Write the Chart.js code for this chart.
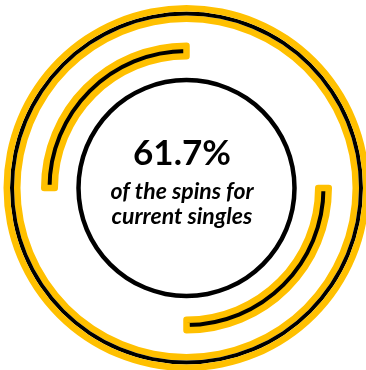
<!DOCTYPE html>
<html lang="en">
<head>
<meta charset="UTF-8">
<title>Current singles spins</title>
<script src="https://cdn.jsdelivr.net/npm/chart.js@4.4.1/dist/chart.umd.min.js"></script>
<style>
  html, body { margin: 0; padding: 0; background: #ffffff; }
  #wrap { width: 366px; height: 370px; }
</style>
</head>
<body>
<div id="wrap"><canvas id="spinsChart" width="366" height="370"></canvas></div>
<script>
// Datos del gráfico
const sharePercent = 61.7;
const captionLines = ['of the spins for', 'current singles'];
const fullRing = [100];
const quarterArcs = [25, 25, 25, 25];
const quarterVisible = [false, true, false, true];

const YELLOW = '#FFC000';
const BLACK = '#000000';

// Anillo completo sin borde (las capas amarillo/negro/amarillo se apilan)
function ringLayer(color, weight) {
    return { data: fullRing, backgroundColor: color, borderWidth: 0, weight: weight };
}

// Separador transparente entre anillos
function spacer(weight) {
    return { data: fullRing, backgroundColor: 'transparent', borderWidth: 0, weight: weight };
}

// Texto central: porcentaje y descripción
const centerText = {
    id: 'centerText',
    afterDatasetsDraw(chart) {
        const arc = chart.getDatasetMeta(0).data[0];
        if (!arc) return;
        const ctx = chart.ctx;
        const x = arc.x - 4.5;
        const y = arc.y;
        ctx.save();
        ctx.fillStyle = BLACK;
        ctx.textAlign = 'center';
        ctx.textBaseline = 'alphabetic';
        ctx.font = 'bold 35px Lato';
        ctx.fillText(sharePercent.toFixed(1) + '%', x, y - 23);
        ctx.font = 'italic bold 23px Lato';
        captionLines.forEach((line, i) => ctx.fillText(line, x, y + 11 + i * 25));
        ctx.restore();
    }
};

function initializeChart(chartElementId) {
    const chartElement = document.getElementById(chartElementId);
    if (!chartElement) {
        console.error(`Canvas "${chartElementId}" no encontrado.`);
        return;
    }

    new Chart(chartElement.getContext('2d'), {
        type: 'doughnut',
        data: {
            datasets: [
                ringLayer(YELLOW, 6.5),
                ringLayer(BLACK, 4),
                ringLayer(YELLOW, 6.5),
                spacer(23.75),
                {
                    // Arcos interiores: solo los cuartos visibles llevan color
                    data: quarterArcs,
                    backgroundColor: quarterVisible.map(v => v ? BLACK : 'transparent'),
                    borderColor: quarterVisible.map(v => v ? YELLOW : 'transparent'),
                    borderWidth: 6.5,
                    borderAlign: 'center',
                    borderJoinStyle: 'round',
                    weight: 10.5
                },
                spacer(21.5),
                ringLayer(BLACK, 4.5)
            ]
        },
        options: {
            responsive: false,
            animation: false,
            events: [],
            radius: 183,
            cutout: '57.787%',
            layout: { padding: { left: 7, top: 6, right: 0, bottom: 0 } },
            plugins: {
                legend: { display: false },
                tooltip: { enabled: false }
            }
        },
        plugins: [centerText]
    });
}

document.addEventListener('DOMContentLoaded', () => {
    initializeChart('spinsChart');
});
</script>
</body>
</html>
